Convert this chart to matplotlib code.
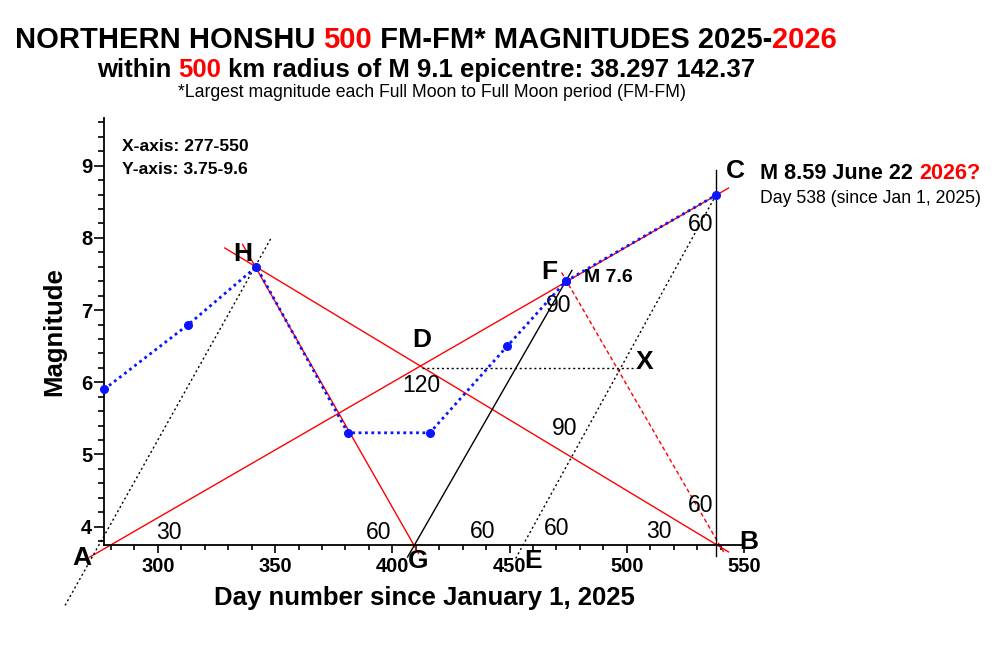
import matplotlib
matplotlib.use('Agg')
import matplotlib.pyplot as plt
from matplotlib.ticker import MultipleLocator

plt.rcParams['font.family'] = ['Liberation Sans', 'DejaVu Sans']

# Largest magnitude per FM-FM period (day number since Jan 1 2025)
days = [277, 313, 342, 381, 416, 449, 474]
mags = [5.9, 6.8, 7.6, 5.3, 5.3, 6.5, 7.4]
# forecast point C
pred_day = 538
pred_mag = 8.59

# construction lines: (x pair, y pair, colour, style)
guide_lines = [
    ((271.0, 543.4), (3.58, 8.69), 'red', '-'),       # A-D-F-C
    ((328.5, 543.4), (7.86, 3.65), 'red', '-'),       # H-D-B
    ((336.1, 411.2), (7.91, 3.63), 'red', '-'),       # H-G
    ((472.2, 541.3), (7.52, 3.65), 'red', 'dash'),    # F-B
    ((406.5, 476.6), (3.58, 7.55), 'black', '-'),     # G-F
    ((260.4, 348.5), (2.91, 8.01), 'black', 'dot'),   # A-H
    ((452.6, 538.0), (3.56, 8.59), 'black', 'dot'),   # E-C
    ((412.6, 503.7), (6.20, 6.20), 'black', 'dot'),   # D-X
    ((538.0, 538.0), (3.60, 8.94), 'black', '-'),     # B-C
]

# point letters and angle labels
letters = [('A', 267.5, 3.57), ('H', 336.1, 7.78), ('D', 412.6, 6.58),
           ('F', 467.1, 7.53), ('X', 507.6, 6.28), ('C', 546.2, 8.92),
           ('B', 551.9, 3.79), ('G', 411.2, 3.52), ('E', 460.0, 3.52)]
angles = [('30', 304.8, 3.92), ('60', 394.1, 3.92), ('60', 438.7, 3.93),
          ('60', 469.9, 3.98), ('30', 513.6, 3.94), ('60', 531.3, 4.29),
          ('90', 473.6, 5.36), ('120', 412.2, 5.95), ('90', 471.0, 7.07),
          ('60', 531.7, 8.18)]

fig = plt.figure(figsize=(10, 6.72), dpi=100)
ax = fig.add_axes([0.104, 0.1894, 0.640, 0.635])

styles = {'-': '-', 'dash': (0, (3, 2)), 'dot': (0, (1.5, 2))}
for xs, ys, c, ls in guide_lines:
    ax.plot(xs, ys, color=c, lw=1, linestyle=styles[ls], clip_on=False)

ax.plot(days, mags, color='#0a14ff', lw=2, linestyle=(0, (1, 1.3)),
        marker='o', markersize=5.5, clip_on=False, zorder=5)
ax.plot([days[-1], pred_day], [mags[-1], pred_mag], color='#0a14ff', lw=2,
        linestyle=(0, (1, 1.3)), marker='o', markersize=5.5, clip_on=False, zorder=5)

for s, x, y in letters:
    ax.text(x, y, s, fontsize=19, fontweight='bold', ha='center', va='center')
for s, x, y in angles:
    ax.text(x, y, s, fontsize=16.5, ha='center', va='center')
ax.text(492.3, 7.45, 'M 7.6', fontsize=14, fontweight='bold', ha='center', va='center')

ax.set_xlim(277, 550)
ax.set_ylim(3.75, 9.66)
ax.spines['top'].set_visible(False)
ax.spines['right'].set_visible(False)
for sp in ['left', 'bottom']:
    ax.spines[sp].set_linewidth(1.3)
ax.xaxis.set_major_locator(MultipleLocator(50))
ax.xaxis.set_minor_locator(MultipleLocator(10))
ax.yaxis.set_major_locator(MultipleLocator(1))
ax.yaxis.set_minor_locator(MultipleLocator(0.2))
ax.tick_params(axis='x', which='major', length=6, width=1.2, pad=3, labelsize=14.5)
ax.tick_params(axis='x', which='minor', length=3.5, width=1.2)
ax.tick_params(axis='y', which='major', length=7, width=1.2, pad=1.5, labelsize=14.5)
ax.tick_params(axis='y', which='minor', length=4, width=1.2)
for lab in ax.get_xticklabels() + ax.get_yticklabels():
    lab.set_fontweight('bold')

ax.set_xlabel('Day number since January 1, 2025', fontsize=18.5, fontweight='bold')
ax.xaxis.set_label_coords(0.5, -0.097)
ax.xaxis.label.set_va('top')
ax.set_ylabel('Magnitude', fontsize=18.5, fontweight='bold')
ax.yaxis.set_label_coords(-0.059, 0.5)

renderer = fig.canvas.get_renderer()


def measure(s, **kw):
    t = fig.text(0, 0, s, **kw)
    w = t.get_window_extent(renderer).width
    t.remove()
    return w / 1000


def rich_text(x, y, parts, center=True, **kw):
    full = ''.join(s for s, _ in parts)
    x0 = x - measure(full, **kw) / 2 if center else x
    prefix = ''
    for s, c in parts:
        off = measure(prefix + '|', **kw) - measure('|', **kw) if prefix else 0
        fig.text(x0 + off, y, s, color=c, ha='left', va='baseline', **kw)
        prefix += s


rich_text(0.426, 0.929, [('NORTHERN HONSHU ', 'black'), ('500', 'red'),
                         (' FM-FM* MAGNITUDES 2025-', 'black'), ('2026', 'red')],
          fontsize=21, fontweight='bold')
rich_text(0.426, 0.886, [('within ', 'black'), ('500', 'red'),
                         (' km radius of M 9.1 epicentre: 38.297 142.37', 'black')],
          fontsize=18.5, fontweight='bold')
fig.text(0.432, 0.856, '*Largest magnitude each Full Moon to Full Moon period (FM-FM)',
         ha='center', va='baseline', fontsize=12.7)

fig.text(0.122, (672 - 151) / 672, 'X-axis: 277-550', fontsize=12.6, fontweight='bold')
fig.text(0.122, (672 - 174) / 672, 'Y-axis: 3.75-9.6', fontsize=12.6, fontweight='bold')

rich_text(0.760, (672 - 179) / 672, [('M 8.59 June 22 ', 'black'), ('2026?', 'red')],
          center=False, fontsize=15.6, fontweight='bold')
fig.text(0.760, (672 - 203) / 672, 'Day 538 (since Jan 1, 2025)', fontsize=12.7)

fig.savefig('out.png', dpi=100)
